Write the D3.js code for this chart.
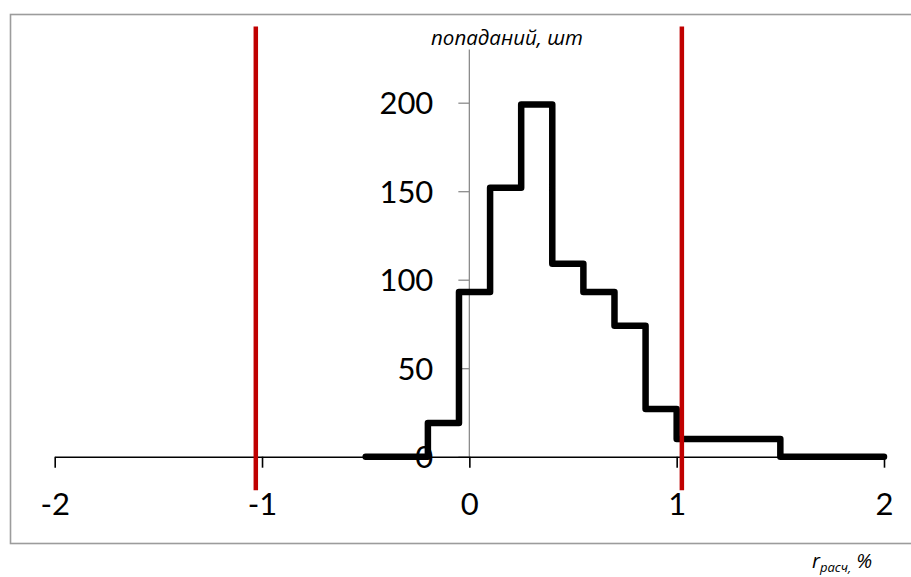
<!DOCTYPE html>
<html>
<head>
  <meta charset="utf-8">
  <script src="https://cdn.jsdelivr.net/npm/d3@7"></script>
  <style>
    body { margin: 0; background: #fff; }
    text { fill: #000; }
  </style>
</head>
<body>
  <div id="chart"></div>

  <script>
    // histogram bins (edges in %) and hit counts
    const binEdges = [-0.5, -0.2, -0.05, 0.1, 0.25, 0.4, 0.55, 0.7, 0.85, 1.0, 1.5, 2.0];
    const counts = [0, 19, 93, 152, 199, 109, 93, 74, 27, 10, 0];
    // red limit lines
    const limits = [-1.03, 1.025];
    const limitSpan = [-19, 243];
    const xTicks = [-2, -1, 0, 1, 2];
    const yTicks = [0, 50, 100, 150, 200];
    const yTitle = 'попаданий, шт';

    const width = 911, height = 577;
    const svg = d3.select('#chart').append('svg')
      .attr('width', width)
      .attr('height', height);

    const x = d3.scaleLinear().domain([-2, 2]).range([54.7, 884]);
    const y = d3.scaleLinear().domain([0, 200]).range([456.7, 102.7]);

    // outer frame
    svg.append('rect')
      .attr('x', 10.5).attr('y', 14.5)
      .attr('width', 930).attr('height', 529)
      .attr('fill', 'none')
      .attr('stroke', '#9c9c9c')
      .attr('stroke-width', 1.6);

    // y axis (gray), crossing at x = 0
    const yAxis = d3.axisLeft(y)
      .tickValues(yTicks)
      .tickSize(11)
      .tickPadding(25)
      .tickFormat(d => String(d));
    const gy = svg.append('g')
      .attr('transform', `translate(${x(0)},0)`)
      .call(yAxis);
    gy.select('.domain').remove();
    gy.append('line')
      .attr('y1', y(0)).attr('y2', y(230))
      .attr('stroke', '#8c8c8c').attr('stroke-width', 1.3);
    gy.selectAll('.tick line').attr('stroke', '#8c8c8c').attr('stroke-width', 1.3);
    gy.selectAll('.tick text')
      .attr('font-family', 'Lato, "Open Sans", sans-serif')
      .attr('font-size', 31)
      .attr('dy', '0.36em');

    // x axis (black), crossing at y = 0
    const xAxis = d3.axisBottom(x)
      .tickValues(xTicks)
      .tickSizeInner(11)
      .tickSizeOuter(0)
      .tickPadding(25)
      .tickFormat(d => String(d));
    const gx = svg.append('g')
      .attr('transform', `translate(0,${y(0)})`)
      .call(xAxis);
    gx.select('.domain').attr('stroke', '#000').attr('stroke-width', 1.6);
    gx.selectAll('.tick line').attr('stroke', '#000').attr('stroke-width', 1.6);
    gx.selectAll('.tick text')
      .attr('font-family', 'Lato, "Open Sans", sans-serif')
      .attr('font-size', 31)
      .attr('dy', '0.71em');

    // histogram as a step line
    const pts = counts.map((c, i) => [binEdges[i], c]);
    pts.push([binEdges[binEdges.length - 1], counts[counts.length - 1]]);
    const line = d3.line()
      .x(d => x(d[0]))
      .y(d => y(d[1]))
      .curve(d3.curveStepAfter);
    svg.append('path')
      .attr('d', line(pts))
      .attr('fill', 'none')
      .attr('stroke', '#000')
      .attr('stroke-width', 6.5)
      .attr('stroke-linejoin', 'round')
      .attr('stroke-linecap', 'round');

    // limit lines
    svg.selectAll('.limit')
      .data(limits)
      .join('line')
      .attr('class', 'limit')
      .attr('x1', d => x(d)).attr('x2', d => x(d))
      .attr('y1', y(limitSpan[0])).attr('y2', y(limitSpan[1]))
      .attr('stroke', '#c00000')
      .attr('stroke-width', 4.5);

    // axis titles
    svg.append('text')
      .attr('x', 507).attr('y', 45)
      .attr('text-anchor', 'middle')
      .attr('font-family', '"Open Sans", "Noto Sans", sans-serif')
      .attr('font-style', 'italic')
      .attr('font-size', 20.5)
      .text(yTitle);

    const xt = svg.append('text')
      .attr('x', 812).attr('y', 568)
      .attr('font-family', '"Open Sans", "Noto Sans", sans-serif')
      .attr('font-style', 'italic')
      .attr('font-size', 20);
    xt.append('tspan').text('r');
    xt.append('tspan').attr('font-size', 13).attr('dy', 4).text('расч,');
    xt.append('tspan').attr('dy', -4).text(' %');
  </script>
</body>
</html>
